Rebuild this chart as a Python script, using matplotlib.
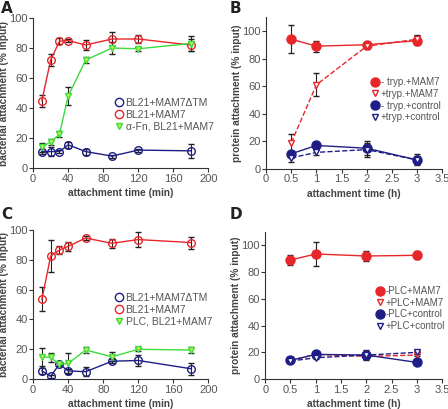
import matplotlib
matplotlib.use("Agg")
import matplotlib.pyplot as plt
from matplotlib.lines import Line2D

RED = "#e8262a"
BLUE = "#1e1e86"
GREEN = "#3bdc3b"
TRI_FILL = "#c8ec5a"
GREY = "#555555"

# panel A / C: bacterial attachment over time (min)
t_min = [10, 20, 30, 40, 60, 90, 120, 180]

a_dtm = [11, 11, 11, 15.5, 11, 8, 12, 11.5]
a_dtm_err = [1.5, 3, 1, 2, 2, 1, 1, 4.5]
a_mam7 = [45, 72, 84.5, 85, 82, 86, 86, 82]
a_mam7_err = [4, 4, 2, 1, 3.5, 4.5, 2.5, 4]
a_fn = [14, 17.5, 22.5, 48, 72, 80, 79.5, 83]
a_fn_err = [3, 2, 2, 6, 2, 4, 1.5, 5]

c_dtm = [5.5, 2, 10, 5.5, 5, 12, 12.5, 7]
c_dtm_err = [2, 1, 1.5, 1.5, 3, 1.5, 4, 4]
c_mam7 = [53.5, 82.5, 86.5, 89, 94.5, 91, 93.5, 91.5]
c_mam7_err = [8, 11, 3, 3, 1.5, 3, 5, 4]
c_plc = [15, 14.5, 10, 10.5, 19.5, 15, 20, 19.5]
c_plc_err = [6, 3, 1, 7, 2, 3, 1, 2]

# panel B / D: protein attachment over time (h)
t_h = [0.5, 1, 2, 3]

b_mam7 = [94, 89, 90, 93]
b_mam7_err = [10, 4, 2, 3]
b_tryp_mam7 = [19, 61, 89, 94]
b_tryp_mam7_err = [6, 8.5, 2, 3]
b_ctrl = [11, 17, 15, 6.5]
b_ctrl_err = [2, 2.5, 5, 4]
b_tryp_ctrl = [8, 12, 14, 6.5]
b_tryp_ctrl_err = [3, 2, 5, 3]

d_mam7 = [89, 93.5, 92, 92.5]
d_mam7_err = [4, 9, 3.5, 3]
d_plc_mam7 = [14, 18.5, 17, 18]
d_plc_mam7_err = [1, 1, 2, 1]
d_ctrl = [14, 18.5, 18, 12.5]
d_ctrl_err = [1, 1, 3, 1]
d_plc_ctrl = [13.5, 16, 18, 20]
d_plc_ctrl_err = [1, 1, 4, 1]

plt.rcParams["font.family"] = "Liberation Sans"


def style_axes(ax, xlabel, ylabel, xlim, ylim, xticks, yticks, xtl=None):
    for s in ("top", "right"):
        ax.spines[s].set_visible(False)
    for s in ("left", "bottom"):
        ax.spines[s].set_color("#333333")
        ax.spines[s].set_linewidth(0.8)
    ax.set_xlim(*xlim)
    ax.set_ylim(*ylim)
    ax.set_xticks(xticks)
    if xtl is not None:
        ax.set_xticklabels(xtl)
    ax.set_yticks(yticks)
    ax.tick_params(direction="out", length=3, width=0.8, colors="#333333",
                   labelcolor=GREY, labelsize=8, pad=1)
    ax.set_xlabel(xlabel, fontsize=7.3, fontweight="bold", color="#444444", labelpad=3)
    ax.set_ylabel(ylabel, fontsize=7.3, fontweight="bold", color="#444444", labelpad=0)


def series(ax, x, y, err, color, marker, fill, ls="-", ms=5.5):
    ax.errorbar(x, y, yerr=err, color=color, ls=ls, lw=1, marker=marker, ms=ms,
                mfc=fill, mec=color, mew=1, ecolor="#222222", elinewidth=0.8,
                capsize=2.2, capthick=0.8, zorder=3)


def legend(ax, entries, anchor, spacing, size=7.5):
    handles = [Line2D([], [], ls="none", marker=m, color=c, mfc=f, mec=c,
                      ms=ms, mew=1) for m, c, f, ms in entries[0]]
    ax.legend(handles, entries[1], loc="upper left", bbox_to_anchor=anchor,
              frameon=False, handlelength=0.6, handletextpad=0.3,
              labelspacing=spacing, fontsize=size, labelcolor=GREY,
              borderaxespad=0, borderpad=0)


fig = plt.figure(figsize=(4.48, 4.09), dpi=100)
axA = fig.add_axes([0.074, 0.589, 0.391, 0.367])
axB = fig.add_axes([0.594, 0.587, 0.393, 0.371])
axC = fig.add_axes([0.074, 0.073, 0.391, 0.365])
axD = fig.add_axes([0.592, 0.073, 0.395, 0.360])

h_ticks = [0, 0.5, 1, 1.5, 2, 2.5, 3, 3.5]
h_labels = ["0", "0.5", "1", "1.5", "2", "2.5", "3", "3.5"]

# A
series(axA, t_min, a_dtm, a_dtm_err, BLUE, "o", "none")
series(axA, t_min, a_mam7, a_mam7_err, RED, "o", "none")
series(axA, t_min, a_fn, a_fn_err, GREEN, "v", TRI_FILL, ms=5)
style_axes(axA, "attachment time (min)", "bacterial attachment (% input)",
           (0, 200), (0, 100), range(0, 201, 40), range(0, 101, 20))
legend(axA, ([("o", BLUE, "none", 6), ("o", RED, "none", 6), ("v", GREEN, TRI_FILL, 5)],
             ["BL21+MAM7\u0394TM", "BL21+MAM7", "\u03b1-Fn, BL21+MAM7"]),
       (0.474, 0.467), 0.18)

# B
series(axB, t_h, b_mam7, b_mam7_err, RED, "o", RED, ms=6.5)
series(axB, t_h, b_tryp_mam7, b_tryp_mam7_err, RED, "v", "white", ls="--", ms=5)
series(axB, t_h, b_ctrl, b_ctrl_err, BLUE, "o", BLUE, ms=6.5)
series(axB, t_h, b_tryp_ctrl, b_tryp_ctrl_err, BLUE, "v", "white", ls="--", ms=5)
style_axes(axB, "attachment time (h)", "protein attachment (% input)",
           (0, 3.5), (0, 110), h_ticks, range(0, 101, 20), h_labels)
legend(axB, ([("o", RED, RED, 6.5), ("v", RED, "white", 5), ("o", BLUE, BLUE, 6.5), ("v", BLUE, "white", 5)],
             ["- tryp.+MAM7", "+tryp.+MAM7", "- tryp.+control", "+tryp.+control"]),
       (0.6, 0.605), 0.18, size=7)

# C
series(axC, t_min, c_dtm, c_dtm_err, BLUE, "o", "none")
series(axC, t_min, c_mam7, c_mam7_err, RED, "o", "none")
series(axC, t_min, c_plc, c_plc_err, GREEN, "v", TRI_FILL, ms=5)
style_axes(axC, "attachment time (min)", "bacterial attachment (% input)",
           (0, 200), (0, 100), range(0, 201, 40), range(0, 101, 20))
legend(axC, ([("o", BLUE, "none", 6), ("o", RED, "none", 6), ("v", GREEN, TRI_FILL, 5)],
             ["BL21+MAM7\u0394TM", "BL21+MAM7", "PLC, BL21+MAM7"]),
       (0.474, 0.577), 0.18)

# D
series(axD, t_h, d_mam7, d_mam7_err, RED, "o", RED, ms=6.5)
series(axD, t_h, d_plc_mam7, d_plc_mam7_err, RED, "v", "white", ls="--", ms=5)
series(axD, t_h, d_ctrl, d_ctrl_err, BLUE, "o", BLUE, ms=6.5)
series(axD, t_h, d_plc_ctrl, d_plc_ctrl_err, BLUE, "v", "white", ls="--", ms=5)
style_axes(axD, "attachment time (h)", "protein attachment (% input)",
           (0, 3.5), (0, 110), h_ticks, range(0, 101, 20), h_labels)
legend(axD, ([("o", RED, RED, 6.5), ("v", RED, "white", 5), ("o", BLUE, BLUE, 6.5), ("v", BLUE, "white", 5)],
             ["-PLC+MAM7", "+PLC+MAM7", "-PLC+control", "+PLC+control"]),
       (0.63, 0.633), 0.18, size=7)

for letter, x, y in [("A", 0.002, 0.968), ("B", 0.512, 0.968),
                     ("C", 0.002, 0.465), ("D", 0.512, 0.465)]:
    fig.text(x, y, letter, fontsize=11, fontweight="bold", color="#222222",
             family="DejaVu Sans")

fig.savefig("out.png", dpi=100)
